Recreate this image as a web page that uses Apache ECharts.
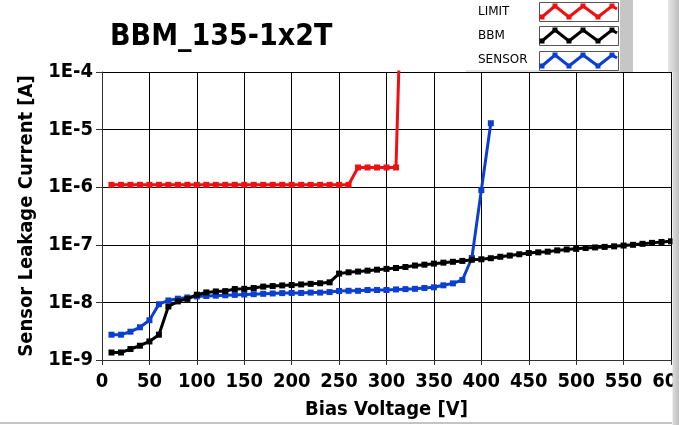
<!DOCTYPE html>
<html><head><meta charset="utf-8">
<script src="https://cdn.jsdelivr.net/npm/echarts@6/dist/echarts.min.js"></script>
<style>html,body{margin:0;padding:0;background:#fff}#c{width:679px;height:425px}</style>
</head><body><div id="c"></div><script>
const chartTitle = 'BBM_135-1x2T';
const xName = 'Bias Voltage [V]';
const yName = 'Sensor Leakage Current [A]';
const seriesNames = ['LIMIT', 'BBM', 'SENSOR'];
const seriesColors = ['#ee1111', '#000000', '#0b3fd0'];
const yTickLabels = {'-9':'1E-9','-8':'1E-8','-7':'1E-7','-6':'1E-6','-5':'1E-5','-4':'1E-4'};

const limitV = [10,20,30,40,50,60,70,80,90,100,110,120,130,140,150,160,170,180,190,200,210,220,230,240,250,260,270,280,290,300,310,320];
const limitI = [1.1e-6,1.1e-6,1.1e-6,1.1e-6,1.1e-6,1.1e-6,1.1e-6,1.1e-6,1.1e-6,1.1e-6,1.1e-6,1.1e-6,1.1e-6,1.1e-6,1.1e-6,1.1e-6,1.1e-6,1.1e-6,1.1e-6,1.1e-6,1.1e-6,1.1e-6,1.1e-6,1.1e-6,1.1e-6,1.1e-6,2.2e-6,2.2e-6,2.2e-6,2.2e-6,2.2e-6,1];

const bbmV = [10,20,30,40,50,60,70,80,90,100,110,120,130,140,150,160,170,180,190,200,210,220,230,240,250,260,270,280,290,300,310,320,330,340,350,360,370,380,390,400,410,420,430,440,450,460,470,480,490,500,510,520,530,540,550,560,570,580,590,600];
const bbmI = [1.35e-9,1.35e-9,1.55e-9,1.77e-9,2.1e-9,2.75e-9,8.5e-9,1.04e-8,1.15e-8,1.36e-8,1.49e-8,1.55e-8,1.57e-8,1.71e-8,1.72e-8,1.78e-8,1.88e-8,1.92e-8,1.97e-8,2.0e-8,2.05e-8,2.1e-8,2.15e-8,2.23e-8,3.16e-8,3.33e-8,3.43e-8,3.56e-8,3.7e-8,3.82e-8,3.96e-8,4.12e-8,4.37e-8,4.52e-8,4.71e-8,4.9e-8,5.07e-8,5.25e-8,5.5e-8,5.6e-8,5.85e-8,6.2e-8,6.5e-8,6.85e-8,7.2e-8,7.4e-8,7.6e-8,8.0e-8,8.3e-8,8.5e-8,8.8e-8,9.0e-8,9.2e-8,9.4e-8,9.7e-8,1.0e-7,1.04e-7,1.08e-7,1.12e-7,1.15e-7];

const sensorV = [10,20,30,40,50,60,70,80,90,100,110,120,130,140,150,160,170,180,190,200,210,220,230,240,250,260,270,280,290,300,310,320,330,340,350,360,370,380,390,400,410];
const sensorI = [2.75e-9,2.75e-9,3.1e-9,3.7e-9,4.9e-9,9.3e-9,1.08e-8,1.16e-8,1.22e-8,1.27e-8,1.29e-8,1.31e-8,1.33e-8,1.35e-8,1.37e-8,1.39e-8,1.41e-8,1.43e-8,1.45e-8,1.46e-8,1.46e-8,1.48e-8,1.48e-8,1.51e-8,1.58e-8,1.59e-8,1.59e-8,1.64e-8,1.64e-8,1.64e-8,1.68e-8,1.7e-8,1.72e-8,1.78e-8,1.83e-8,1.98e-8,2.14e-8,2.45e-8,5.9e-8,8.9e-7,1.29e-5];

const FONT = "'DejaVu Sans Condensed','DejaVu Sans',sans-serif";
const pairs = (xs, ys) => xs.map((x, i) => [x, ys[i]]);

function mkSeries(name, color, data, z) {
  return {
    name, type: 'line', data, z,
    symbol: 'rect', symbolSize: 6,
    lineStyle: { color, width: 3 },
    itemStyle: { color },
    emphasis: { disabled: true },
    animation: false
  };
}

// legend drawn as graphic decoration
const legendGraphic = [];
legendGraphic.push({ type: 'rect', shape: { x: 466, y: 0, width: 154, height: 70 }, style: { fill: '#fff' }, z: 50 });
legendGraphic.push({ type: 'rect', shape: { x: 620, y: 0, width: 13, height: 72 }, style: { fill: '#c6c6c6' }, z: 50 });
legendGraphic.push({ type: 'rect', shape: { x: 466, y: 70, width: 154, height: 2 }, style: { fill: '#e2e2e2' }, z: 50 });
const boxY = [2, 26, 51];
const textY = [12, 36, 60];
seriesNames.forEach((n, i) => {
  legendGraphic.push({ type: 'text', x: 478, y: textY[i], style: { text: n, fill: '#000', font: "12px 'DejaVu Sans',sans-serif", verticalAlign: 'middle' }, z: 51 });
  legendGraphic.push({ type: 'rect', shape: { x: 539.5, y: boxY[i] + 0.5, width: 79, height: 19 }, style: { fill: '#fff', stroke: '#555', lineWidth: 1 }, z: 51 });
  const pts = [[3,15],[16,4],[30,15],[44,4],[59,15],[73,4],[78,7]].map(p => [539 + p[0], boxY[i] + p[1]]);
  legendGraphic.push({ type: 'polyline', shape: { points: pts }, style: { stroke: seriesColors[i], lineWidth: 3, fill: null }, z: 52 });
  pts.slice(0, 6).forEach(p => {
    legendGraphic.push({ type: 'rect', shape: { x: p[0] - 2.5, y: p[1] - 2.5, width: 5, height: 5 }, style: { fill: seriesColors[i] }, z: 53 });
  });
});
// window frame strips
legendGraphic.push({ type: 'rect', shape: { x: 668, y: 0, width: 11, height: 72 }, style: { fill: { type: 'linear', x: 0, y: 0, x2: 1, y2: 0, colorStops: [{ offset: 0, color: '#e6e6e6' }, { offset: 1, color: '#bdbdbd' }] } }, z: 60 });
legendGraphic.push({ type: 'rect', shape: { x: 672.5, y: 72, width: 7, height: 353 }, style: { fill: { type: 'linear', x: 0, y: 0, x2: 1, y2: 0, colorStops: [{ offset: 0, color: '#dcdcdc' }, { offset: 1, color: '#bdbdbd' }] } }, z: 60 });
legendGraphic.push({ type: 'rect', shape: { x: 0, y: 422, width: 672, height: 2 }, style: { fill: '#c4c4c4' }, z: 60 });

const chart = echarts.init(document.getElementById('c'), null, { renderer: 'canvas' });
chart.setOption({
  animation: false,
  backgroundColor: '#fff',
  title: {
    text: chartTitle, left: 105, top: 17,
    textStyle: { fontFamily: FONT, fontWeight: 'bold', fontSize: 30, color: '#000' }
  },
  grid: { left: 102, right: 8, top: 72, bottom: 65, containLabel: false, outerBoundsMode: 'none' },
  xAxis: {
    type: 'value', min: 0, max: 600, interval: 50,
    name: xName, nameLocation: 'middle', nameGap: 40,
    nameTextStyle: { fontFamily: FONT, fontWeight: 'bold', fontSize: 20, color: '#000' },
    axisLine: { show: true, lineStyle: { color: '#333', width: 1 } },
    axisTick: { show: true, length: 5, lineStyle: { color: '#333' } },
    axisLabel: { fontFamily: FONT, fontWeight: 'bold', fontSize: 20, color: '#000', margin: 12, showMaxLabel: true, hideOverlap: false },
    splitLine: { show: true, lineStyle: { color: '#000', width: 1 } }
  },
  yAxis: {
    type: 'log', logBase: 10, min: 1e-9, max: 1e-4, splitNumber: 5,
    name: yName, nameLocation: 'middle', nameGap: 60,
    nameTextStyle: { fontFamily: FONT, fontWeight: 'bold', fontSize: 20, color: '#000' },
    axisLine: { show: true, lineStyle: { color: '#333', width: 1 } },
    axisTick: { show: true, length: 6, lineStyle: { color: '#333' } },
    axisLabel: {
      fontFamily: FONT, fontWeight: 'bold', fontSize: 20, color: '#000', margin: 9,
      formatter: v => yTickLabels[String(Math.round(Math.log10(v)))] || ''
    },
    splitLine: { show: true, lineStyle: { color: '#000', width: 1 } },
    minorTick: { show: false }
  },
  series: [
    mkSeries(seriesNames[0], seriesColors[0], pairs(limitV, limitI), 3),
    mkSeries(seriesNames[2], seriesColors[2], pairs(sensorV, sensorI), 4),
    mkSeries(seriesNames[1], seriesColors[1], pairs(bbmV, bbmI), 5)
  ],
  graphic: { elements: legendGraphic }
});
</script></body></html>
